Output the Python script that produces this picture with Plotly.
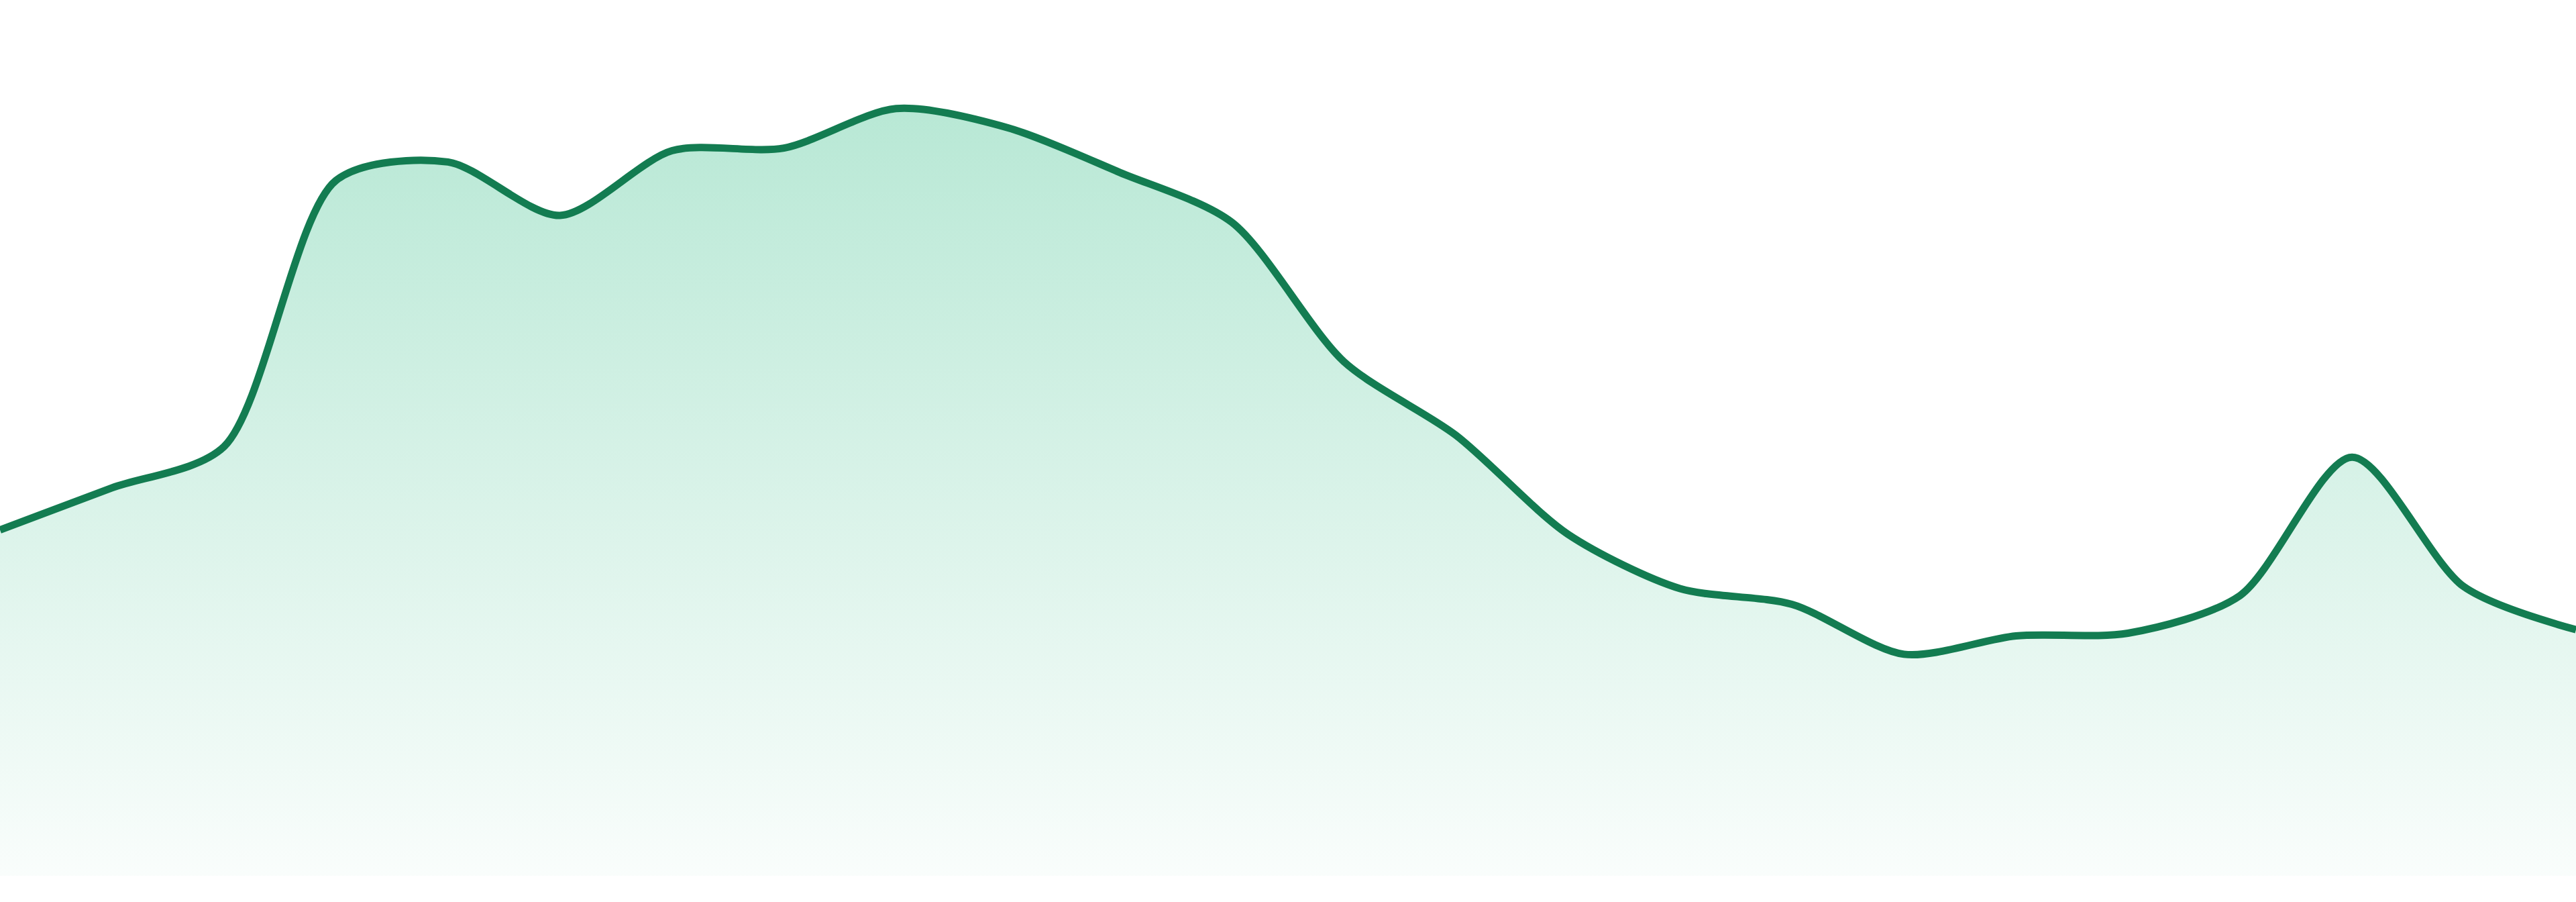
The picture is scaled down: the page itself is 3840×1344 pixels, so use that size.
import plotly.graph_objects as go

# indices of the samples along the x axis
periods = list(range(24))
values = [39.5, 44.3, 49.0, 79.4, 81.5, 75.4, 82.8, 83.1, 87.6, 85.4, 80.3, 74.6,
          58.7, 50.3, 39.0, 32.8, 31.0, 25.3, 27.4, 27.7, 32.0, 47.8, 33.0, 28.1]

line_color = "#137c51"
fill_rgb = "184,232,213"

fig = go.Figure()

fig.add_trace(go.Scatter(
    x=periods, y=values,
    mode="lines",
    line=dict(color=line_color, width=11, shape="spline", smoothing=0.8),
    fill="tozeroy",
    fillgradient=dict(
        type="vertical",
        colorscale=[[0, f"rgba({fill_rgb},0.08)"], [1, f"rgba({fill_rgb},1)"]],
    ),
    hoverinfo="skip",
))

fig.update_layout(
    width=3840, height=1344,
    margin=dict(l=0, r=0, t=0, b=39),
    paper_bgcolor="white",
    plot_bgcolor="white",
    showlegend=False,
    xaxis=dict(visible=False, range=[0, 23]),
    yaxis=dict(visible=False, range=[0, 100]),
)

# drop the default page margin so the chart sits flush with the window
fig.write_html(
    "out.html",
    config={"displayModeBar": False},
    post_script="document.body.style.margin='0';",
)
